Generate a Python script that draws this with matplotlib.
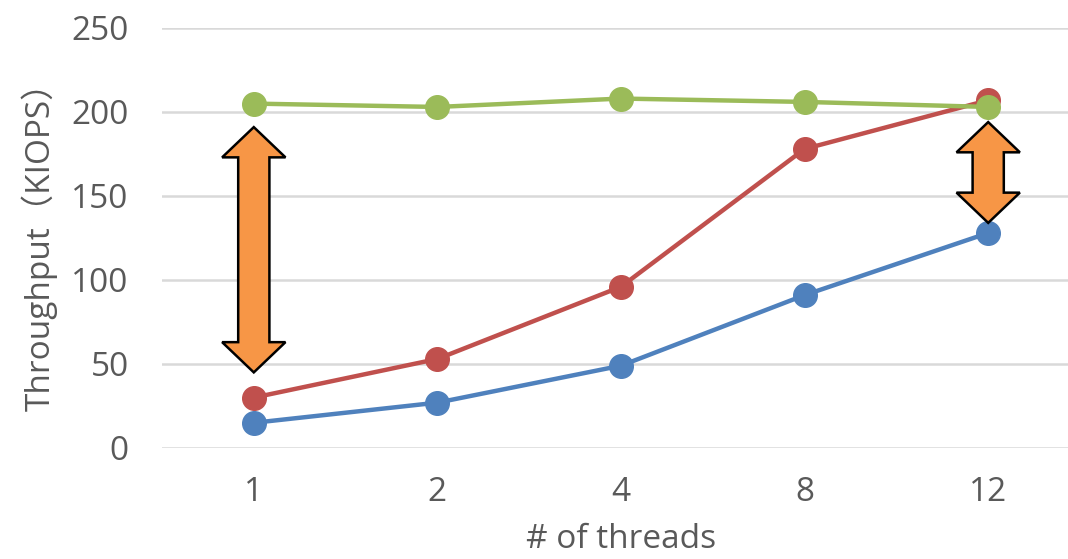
import numpy as np
import matplotlib.pyplot as plt
from matplotlib.patches import Polygon

threads = ['1', '2', '4', '8', '12']
blue_vals = [15, 27, 49, 91, 128]
red_vals = [30, 53, 96, 178, 207]
green_vals = [205, 203, 208, 206, 203]

# double arrows marking the gap: (category index, low end, high end)
gaps = [(0, 45, 191), (4, 134, 194)]

plt.rcParams['font.family'] = ['Open Sans', 'Noto Sans CJK SC', 'DejaVu Sans']
grey = '#595959'


def double_arrow(ax, xc, y0, y1, head_w=0.345, shaft_w=0.17, head_len=18):
    hw = head_w / 2.0
    sw = shaft_w / 2.0
    pts = [(xc, y1), (xc + hw, y1 - head_len), (xc + sw, y1 - head_len),
           (xc + sw, y0 + head_len), (xc + hw, y0 + head_len), (xc, y0),
           (xc - hw, y0 + head_len), (xc - sw, y0 + head_len),
           (xc - sw, y1 - head_len), (xc - hw, y1 - head_len)]
    ax.add_patch(Polygon(pts, closed=True, facecolor='#F79646',
                         edgecolor='black', lw=1.8, zorder=5, joinstyle='miter'))


fig = plt.figure(figsize=(10.68, 5.59), dpi=100)
ax = fig.add_axes([162 / 1068, 111 / 559, 918 / 1068, 420 / 559])

x = np.arange(len(threads))
for vals, c in [(blue_vals, '#4F81BD'), (red_vals, '#C0504D'), (green_vals, '#9BBB59')]:
    ax.plot(x, vals, color=c, lw=3.2, marker='o', markersize=17, zorder=3,
            solid_capstyle='round')

for xi, lo, hi in gaps:
    double_arrow(ax, xi, lo, hi)

ax.set_xlim(-0.5, 4.5)
ax.set_ylim(0, 250)
ax.set_yticks(np.arange(0, 251, 50))
ax.set_xticks(x)
ax.set_xticklabels(threads)
ax.grid(axis='y', color='#D9D9D9', lw=1.8)
ax.set_axisbelow(True)
for s in ax.spines.values():
    s.set_visible(False)
ax.tick_params(length=0, labelsize=24, colors=grey)
ax.tick_params(axis='x', pad=20)
ax.tick_params(axis='y', pad=24)

ax.set_xlabel('# of threads', fontsize=24, color=grey, labelpad=10)
ax.set_ylabel('Throughput（KIOPS）', fontsize=24, color=grey, labelpad=10)

fig.savefig('out.png', dpi=100)
